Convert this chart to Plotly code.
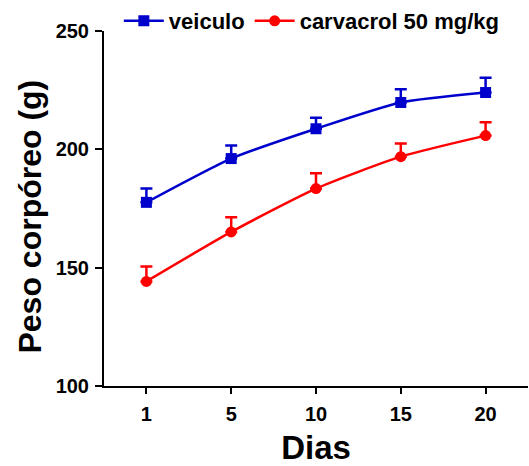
import plotly.graph_objects as go

# Body weight over the treatment period
dias = ["1", "5", "10", "15", "20"]
veiculo = [177.6, 196.1, 208.7, 219.8, 224.0]
veiculo_ep = [5.8, 5.5, 4.6, 5.6, 6.2]
carvacrol = [144.2, 165.1, 183.4, 196.9, 205.8]
carvacrol_ep = [6.3, 6.2, 6.5, 5.6, 5.6]

BLUE = "#0000CC"
RED = "#FF0000"
FONT = "Arial, Liberation Sans, sans-serif"

fig = go.Figure()

def add_series(name, y, err, color, symbol, size):
    fig.add_trace(go.Scatter(
        x=dias, y=y, name=name, mode="lines+markers",
        line=dict(color=color, width=2.5, shape="spline", smoothing=0.6),
        marker=dict(color=color, symbol=symbol, size=size),
        error_y=dict(type="data", array=err, arrayminus=[0] * len(err),
                     symmetric=False, color=color, thickness=2.5, width=6),
    ))

add_series("veiculo", veiculo, veiculo_ep, BLUE, "square", 11)
add_series("carvacrol 50 mg/kg", carvacrol, carvacrol_ep, RED, "circle", 11)

fig.update_layout(
    width=529, height=466,
    margin=dict(l=104, r=1, t=30, b=80),
    paper_bgcolor="white", plot_bgcolor="white",
    font=dict(family=FONT, color="black"),
    showlegend=True,
    legend=dict(orientation="h", x=0.035, y=1.085, xanchor="left", yanchor="top",
                font=dict(size=22, family=FONT, weight="bold"),
                itemwidth=40, bgcolor="rgba(0,0,0,0)", tracegroupgap=0),
    xaxis=dict(
        type="category", range=[-0.5, 4.5],
        showline=True, linecolor="black", linewidth=2,
        ticks="outside", ticklen=6, tickwidth=2, tickcolor="black",
        ticklabelstandoff=3,
        showgrid=False, zeroline=False,
        tickfont=dict(size=20, family=FONT, weight="bold"),
        title=dict(text="Dias", font=dict(size=33, family=FONT, weight="bold"), standoff=15),
    ),
    yaxis=dict(
        range=[100, 250], tickvals=[100, 150, 200, 250],
        showline=True, linecolor="black", linewidth=2,
        ticks="outside", ticklen=7, tickwidth=2, tickcolor="black",
        ticklabelstandoff=2,
        showgrid=False, zeroline=False,
        tickfont=dict(size=20, family=FONT, weight="bold"),
    ),
    annotations=[dict(
        text="Peso corpóreo (g)", textangle=-90,
        xref="paper", yref="paper", x=-0.174, y=0.478,
        xanchor="center", yanchor="middle", showarrow=False,
        font=dict(size=32, family=FONT, weight="bold", color="black"),
    )],
)

fig.write_html("out.html")
